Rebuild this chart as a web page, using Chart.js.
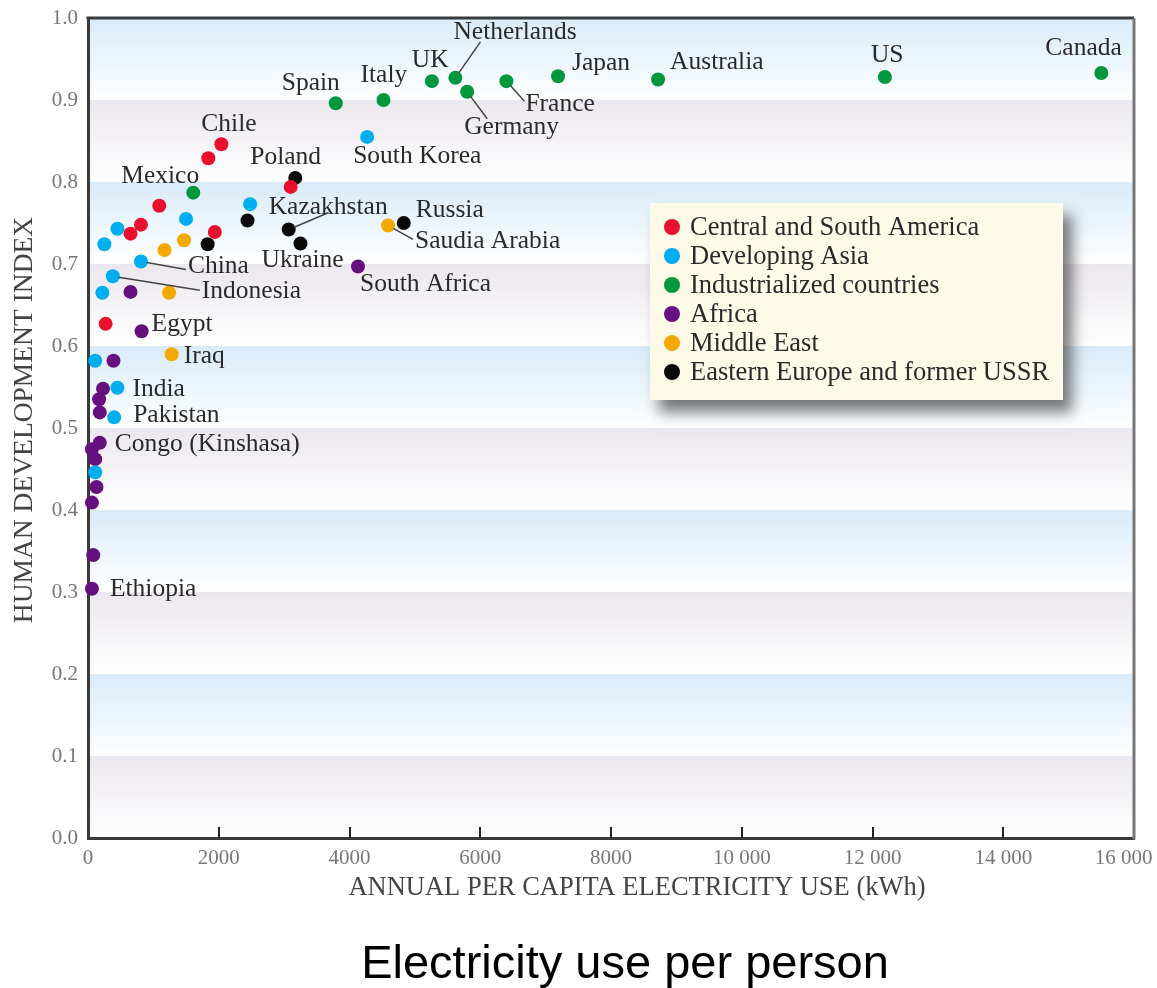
<!DOCTYPE html>
<html>
<head>
<meta charset="utf-8">
<title>Electricity use per person</title>
<script src="https://cdn.jsdelivr.net/npm/chart.js@4.4.1/dist/chart.umd.min.js"></script>
<style>
  html, body { margin: 0; padding: 0; background: #fff; }
</style>
</head>
<body>
<canvas id="hdiChart" width="1157" height="988"></canvas>
<script>
// Groups (legend order)
var groupNames = ['Central and South America', 'Developing Asia', 'Industrialized countries',
  'Africa', 'Middle East', 'Eastern Europe and former USSR'];
var groupColors = ['#e8102c', '#00aeef', '#00973d', '#66107f', '#f4a900', '#0a0a0a'];

// Annual per capita electricity use (kWh) / Human development index
var americaKwh = [2040, 1840, 1090, 810, 650, 1940, 3100, 270];
var americaHdi = [0.846, 0.829, 0.771, 0.748, 0.737, 0.739, 0.794, 0.627];

var asiaKwh = [4270, 2480, 1500, 450, 250, 810, 380, 220, 110, 450, 400, 110];
var asiaHdi = [0.855, 0.773, 0.755, 0.743, 0.724, 0.703, 0.685, 0.665, 0.582, 0.549, 0.513, 0.446];

// Spain, Italy, UK, Netherlands, Germany, France, Japan, Australia, US, Canada, Mexico
var industrialKwh = [3790, 4520, 5260, 5620, 5800, 6400, 7190, 8720, 12190, 15500, 1610];
var industrialHdi = [0.896, 0.900, 0.923, 0.927, 0.910, 0.923, 0.929, 0.925, 0.928, 0.933, 0.787];

var africaKwh = [4130, 650, 820, 390, 230, 170, 180, 180, 60, 110, 130, 60, 80, 60];
var africaHdi = [0.697, 0.666, 0.618, 0.582, 0.548, 0.535, 0.519, 0.482, 0.474, 0.462, 0.428, 0.409, 0.345, 0.304];

var mideastKwh = [4590, 1470, 1170, 1240, 1280];
var mideastHdi = [0.747, 0.729, 0.717, 0.665, 0.590];

var easternKwh = [3170, 4830, 2440, 3070, 3250, 1830];
var easternHdi = [0.805, 0.750, 0.753, 0.742, 0.725, 0.724];

var xTicks = [0, 2000, 4000, 6000, 8000, 10000, 12000, 14000, 16000];

var xTitle = 'ANNUAL PER CAPITA ELECTRICITY USE (kWh)';
var yTitle = 'HUMAN DEVELOPMENT INDEX';
var chartTitle = 'Electricity use per person';

// country names: dataset index, point index, text offset, optional leader end
var pointLabels = [
  { text: 'Chile', ds: 0, i: 0, dx: -20, dy: -20 },
  { text: 'South Korea', ds: 1, i: 0, dx: -14, dy: 19 },
  { text: 'China', ds: 1, i: 5, dx: 47, dy: 5, lx: 45, ly: 8 },
  { text: 'Indonesia', ds: 1, i: 6, dx: 89, dy: 15, lx: 87, ly: 14 },
  { text: 'India', ds: 1, i: 9, dx: 15, dy: 1 },
  { text: 'Pakistan', ds: 1, i: 10, dx: 19, dy: -2 },
  { text: 'Spain', ds: 2, i: 0, dx: -54, dy: -20 },
  { text: 'Italy', ds: 2, i: 1, dx: -23, dy: -25 },
  { text: 'UK', ds: 2, i: 2, dx: -20, dy: -21 },
  { text: 'Netherlands', ds: 2, i: 3, dx: -2, dy: -46, lx: 25, ly: -36 },
  { text: 'Germany', ds: 2, i: 4, dx: -3, dy: 35, lx: 20, ly: 27 },
  { text: 'France', ds: 2, i: 5, dx: 19, dy: 23, lx: 18, ly: 20 },
  { text: 'Japan', ds: 2, i: 6, dx: 14, dy: -13 },
  { text: 'Australia', ds: 2, i: 7, dx: 12, dy: -17 },
  { text: 'US', ds: 2, i: 8, dx: -14, dy: -22 },
  { text: 'Canada', ds: 2, i: 9, dx: -56, dy: -25 },
  { text: 'Mexico', ds: 2, i: 10, dx: -72, dy: -16 },
  { text: 'South Africa', ds: 3, i: 0, dx: 2, dy: 18 },
  { text: 'Egypt', ds: 3, i: 2, dx: 10, dy: -7 },
  { text: 'Congo (Kinshasa)', ds: 3, i: 7, dx: 15, dy: 2 },
  { text: 'Ethiopia', ds: 3, i: 13, dx: 18, dy: 1 },
  { text: 'Saudia Arabia', ds: 4, i: 0, dx: 27, dy: 16, lx: 25, ly: 14 },
  { text: 'Iraq', ds: 4, i: 4, dx: 12, dy: 2 },
  { text: 'Poland', ds: 5, i: 0, dx: -45, dy: -21 },
  { text: 'Russia', ds: 5, i: 1, dx: 12, dy: -13 },
  { text: 'Kazakhstan', ds: 5, i: 3, dx: -20, dy: -22, lx: 40, ly: -17 },
  { text: 'Ukraine', ds: 5, i: 4, dx: -39, dy: 17 }
];

var serif = '"Liberation Serif", "DejaVu Serif", serif';

function toPoints(xs, ys) {
  return xs.map(function (x, k) { return { x: x, y: ys[k] }; });
}

var allKwh = [americaKwh, asiaKwh, industrialKwh, africaKwh, mideastKwh, easternKwh];
var allHdi = [americaHdi, asiaHdi, industrialHdi, africaHdi, mideastHdi, easternHdi];

var datasets = groupNames.map(function (name, g) {
  return {
    label: name,
    data: toPoints(allKwh[g], allHdi[g]),
    backgroundColor: groupColors[g],
    borderWidth: 0,
    pointRadius: 7,
    pointHoverRadius: 7,
    clip: false
  };
});

var decor = {
  id: 'decor',
  beforeDraw: function (chart) {
    // alternating fading bands behind the plot
    var ctx = chart.ctx, a = chart.chartArea, ys = chart.scales.y;
    ctx.save();
    for (var b = 0; b < 10; b++) {
      var top = ys.getPixelForValue((10 - b) / 10);
      var bot = ys.getPixelForValue((9 - b) / 10);
      var grad = ctx.createLinearGradient(0, top, 0, bot);
      grad.addColorStop(0, b % 2 ? '#ebe7ee' : '#d9ebf8');
      grad.addColorStop(1, '#ffffff');
      ctx.fillStyle = grad;
      ctx.fillRect(a.left, top, a.right - a.left, bot - top);
    }
    ctx.restore();
  },
  afterDraw: function (chart) {
    var ctx = chart.ctx, a = chart.chartArea, xs = chart.scales.x;
    ctx.save();

    // frame top / right
    ctx.lineWidth = 3;
    ctx.strokeStyle = '#3a3a3a';
    ctx.beginPath();
    ctx.moveTo(a.left - 1.5, a.top);
    ctx.lineTo(a.right, a.top);
    ctx.stroke();
    ctx.strokeStyle = '#777';
    ctx.beginPath();
    ctx.moveTo(a.right, a.top);
    ctx.lineTo(a.right, a.bottom + 1.5);
    ctx.stroke();

    // inner tick marks on x axis
    ctx.strokeStyle = '#222';
    ctx.lineWidth = 2;
    xTicks.slice(1, -1).forEach(function (v) {
      var px = Math.round(xs.getPixelForValue(v));
      ctx.beginPath();
      ctx.moveTo(px, a.bottom);
      ctx.lineTo(px, a.bottom - 11);
      ctx.stroke();
    });

    // country labels + leader lines
    ctx.font = '25.5px ' + serif;
    ctx.textBaseline = 'middle';
    ctx.textAlign = 'left';
    pointLabels.forEach(function (lb) {
      var el = chart.getDatasetMeta(lb.ds).data[lb.i];
      if (!el) return;
      if (lb.lx !== undefined) {
        var len = Math.sqrt(lb.lx * lb.lx + lb.ly * lb.ly);
        ctx.strokeStyle = '#444';
        ctx.lineWidth = 1.5;
        ctx.beginPath();
        ctx.moveTo(el.x + lb.lx / len * 6, el.y + lb.ly / len * 6);
        ctx.lineTo(el.x + lb.lx, el.y + lb.ly);
        ctx.stroke();
      }
      ctx.fillStyle = '#2a2a2a';
      ctx.fillText(lb.text, el.x + lb.dx, el.y + lb.dy);
    });

    // legend box
    var lx = 650, ly = 203, lw = 413, lh = 197;
    ctx.save();
    ctx.shadowColor = 'rgba(30,30,30,0.6)';
    ctx.shadowBlur = 14;
    ctx.shadowOffsetX = 9;
    ctx.shadowOffsetY = 12;
    ctx.fillStyle = '#fdfbe8';
    ctx.fillRect(lx, ly, lw, lh);
    ctx.restore();
    ctx.font = '26.5px ' + serif;
    chart.data.datasets.forEach(function (ds, k) {
      var cy = ly + 24 + k * 29;
      ctx.fillStyle = ds.backgroundColor;
      ctx.beginPath();
      ctx.arc(lx + 22, cy, 8, 0, Math.PI * 2);
      ctx.fill();
      ctx.fillStyle = '#2a2a2a';
      ctx.fillText(ds.label, lx + 40, cy + 1);
    });

    // axis titles
    ctx.fillStyle = '#444';
    ctx.textAlign = 'center';
    ctx.font = '26.5px ' + serif;
    ctx.fillText(xTitle, 637, 888);
    ctx.save();
    ctx.translate(25, 420);
    ctx.rotate(-Math.PI / 2);
    ctx.font = '27.5px ' + serif;
    ctx.fillText(yTitle, 0, 0);
    ctx.restore();

    // caption
    ctx.fillStyle = '#000';
    ctx.font = '47px "Liberation Sans", Arial, sans-serif';
    ctx.fillText(chartTitle, 625, 965);
    ctx.restore();
  }
};

new Chart(document.getElementById('hdiChart'), {
  type: 'scatter',
  data: { datasets: datasets },
  plugins: [decor],
  options: {
    responsive: false,
    animation: false,
    layout: { padding: 0 },
    plugins: {
      legend: { display: false },
      tooltip: { enabled: false }
    },
    scales: {
      x: {
        type: 'linear',
        min: 0,
        max: 16000,
        afterBuildTicks: function (scale) {
          scale.ticks = xTicks.map(function (v) { return { value: v }; });
        },
        afterFit: function (scale) {
          scale.height = 150;
          scale.paddingRight = 23;
          scale.paddingLeft = 0;
        },
        ticks: {
          color: '#777',
          font: { family: serif, size: 21 },
          padding: 8,
          maxRotation: 0,
          autoSkip: false,
          callback: function (v) {
            if (v < 10000) return String(v);
            var s = Math.floor(v / 1000) + ' ' + String(v % 1000).padStart(3, '0');
            // last label sits against the page edge: pad so it stays readable
            return v === 16000 ? s + '\u00a0\u00a0\u00a0\u00a0' : s;
          }
        },
        grid: { display: false, drawTicks: false },
        border: { display: true, color: '#3a3a3a', width: 3 }
      },
      y: {
        type: 'linear',
        min: 0,
        max: 1,
        afterFit: function (scale) {
          scale.width = 88;
          scale.paddingTop = 18;
          scale.paddingBottom = 0;
        },
        ticks: {
          stepSize: 0.1,
          color: '#777',
          font: { family: serif, size: 21 },
          padding: 10,
          callback: function (v) { return Number(v).toFixed(1); }
        },
        grid: { display: false, drawTicks: false },
        border: { display: true, color: '#3a3a3a', width: 3 }
      }
    }
  }
});
</script>
</body>
</html>
